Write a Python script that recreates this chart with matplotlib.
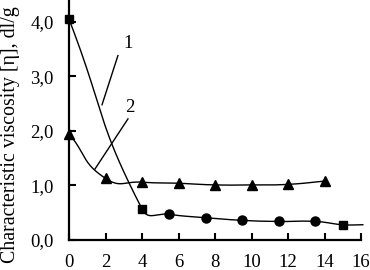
import numpy as np
import matplotlib
matplotlib.use("Agg")
import matplotlib.pyplot as plt
from matplotlib.ticker import FuncFormatter

# Series 1 (squares / circles)
x1 = [0, 4, 5.5, 7.5, 9.5, 11.5, 13.5, 15]
y1 = [4.05, 0.57, 0.47, 0.41, 0.36, 0.34, 0.34, 0.28]
x1_end, y1_end = 16.1, 0.28  # line continues past last marker
# Series 2 (triangles)
x2 = [0, 2, 4, 6, 8, 10, 12, 14]
y2 = [1.95, 1.13, 1.06, 1.04, 1.01, 1.01, 1.02, 1.08]

xticks = [0, 2, 4, 6, 8, 10, 12, 14, 16]
yticks = [0, 1, 2, 3, 4]
ylabel = "Characteristic viscosity [η], dl/g"

plt.rcParams['font.family'] = ['Liberation Serif', 'DejaVu Serif']

XMAX, YMAX = 16, 4.4
AX_W, AX_H = 292, 240  # axes size in pixels


def smooth(xs, ys, n=40, k=0.5):
    # spreadsheet-like smoothing, computed in pixel space
    sxp, syp = AX_W / XMAX, AX_H / YMAX
    P = np.column_stack([np.asarray(xs, float) * sxp, np.asarray(ys, float) * syp])
    N = len(P)
    out = []
    for i in range(N - 1):
        p1, p2 = P[i], P[i + 1]
        p0 = P[i - 1] if i > 0 else p1
        p3 = P[i + 2] if i + 2 < N else p2
        L = np.linalg.norm(p2 - p1)
        d1 = p2 - p0
        d1 = d1 / np.linalg.norm(d1)
        d2 = p3 - p1
        d2 = d2 / np.linalg.norm(d2)
        c1 = p1 + d1 * L * k
        c2 = p2 - d2 * L * k
        t = np.linspace(0, 1, n)[:, None]
        seg = ((1 - t) ** 3) * p1 + 3 * ((1 - t) ** 2) * t * c1 + 3 * (1 - t) * t ** 2 * c2 + t ** 3 * p2
        out.append(seg if i == 0 else seg[1:])
    S = np.vstack(out)
    return S[:, 0] / sxp, S[:, 1] / syp


fig = plt.figure(figsize=(3.7, 2.7), dpi=100)
ax = fig.add_axes([69 / 370, 1 - 240 / 270, AX_W / 370, AX_H / 270])

sx, sy = smooth(x1 + [x1_end], y1 + [y1_end])
ax.plot(sx, sy, color='black', lw=1.0, clip_on=False)
sx, sy = smooth(x2, y2)
ax.plot(sx, sy, color='black', lw=1.0, clip_on=False)

sq_idx = [0, 1, 7]
ci_idx = [2, 3, 4, 5, 6]
ax.plot([x1[i] for i in sq_idx], [y1[i] for i in sq_idx], 's', color='black', ms=6, clip_on=False, zorder=5)
ax.plot([x1[i] for i in ci_idx], [y1[i] for i in ci_idx], 'o', color='black', ms=6.5, clip_on=False, zorder=5)
ax.plot(x2, y2, '^', color='black', ms=6.5, clip_on=False, zorder=5)

# curve labels with leader lines
ax.plot([1.81, 2.68], [2.48, 3.38], color='black', lw=1.0)
ax.text(3.23, 3.61, "1", fontsize=13.5, ha='center', va='center')
ax.plot([1.42, 3.23], [1.30, 2.22], color='black', lw=1.0)
ax.text(3.34, 2.42, "2", fontsize=13.5, ha='center', va='center')

ax.set_xlim(0, XMAX)
ax.set_ylim(0, YMAX)
ax.set_xticks(xticks)
ax.set_yticks(yticks)
ax.yaxis.set_major_formatter(FuncFormatter(lambda v, p: f"{v:.1f}".replace('.', ',')))
ax.spines['top'].set_visible(False)
ax.spines['right'].set_visible(False)
for s in ['left', 'bottom']:
    ax.spines[s].set_linewidth(1.6)
ax.tick_params(direction='in', length=5, width=1.5, labelsize=13.5)
ax.tick_params(axis='y', pad=11)
ax.tick_params(axis='x', pad=10)
ax.set_ylabel(ylabel, fontsize=14.3)
ax.yaxis.set_label_coords((20 - 69) / AX_W, (240 - 135) / AX_H)
ax.patch.set_alpha(0)

fig.savefig("out.png", dpi=100)
